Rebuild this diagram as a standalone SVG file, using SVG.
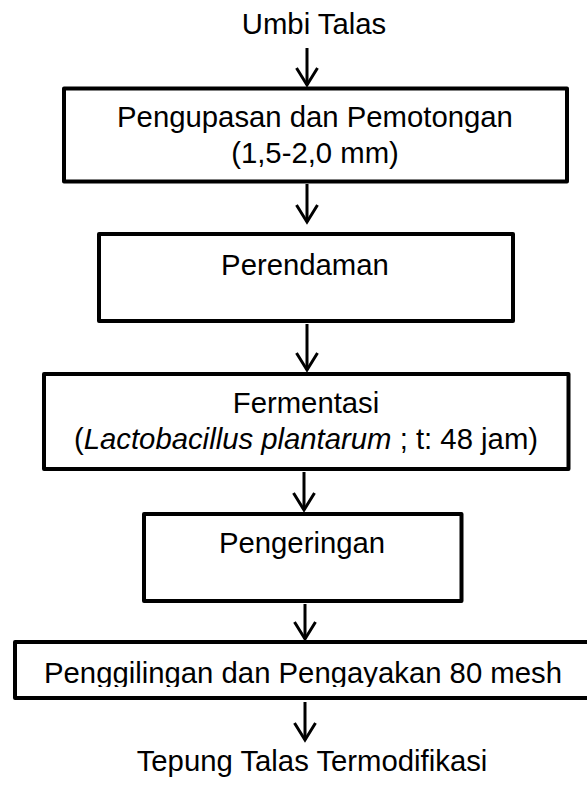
<svg xmlns="http://www.w3.org/2000/svg" width="587" height="785" viewBox="0 0 587 785">
<style>
.box{fill:#fff;stroke:#000;stroke-width:4;stroke-linejoin:round}
.t{font-family:"Liberation Sans",Arial,sans-serif;font-size:29.3px;fill:#000;text-anchor:middle}
.c{stroke:#000;stroke-width:3;fill:none}
</style>
<defs>
<marker id="ah" markerUnits="userSpaceOnUse" orient="auto" refX="0" refY="0" markerWidth="40" markerHeight="40" viewBox="-20 -20 40 40" overflow="visible">
<path d="M-17,-10.5 L0,0 L-17,10.5" fill="none" stroke="#000" stroke-width="3"/>
</marker>
<clipPath id="clip5"><rect x="17" y="644" width="570" height="43"/></clipPath>
</defs>
<rect width="587" height="785" fill="#fff"/>
<g id="connectors">
<line class="c" x1="307" y1="48" x2="307" y2="85" marker-end="url(#ah)"/>
<line class="c" x1="307" y1="184" x2="307" y2="222" marker-end="url(#ah)"/>
<line class="c" x1="307" y1="324" x2="307" y2="370" marker-end="url(#ah)"/>
<line class="c" x1="304" y1="472" x2="304" y2="510" marker-end="url(#ah)"/>
<line class="c" x1="305" y1="604" x2="305" y2="639" marker-end="url(#ah)"/>
<line class="c" x1="305" y1="702" x2="305" y2="740" marker-end="url(#ah)"/>
</g>
<g id="start"><text class="t" x="314" y="34">Umbi Talas</text></g>
<g id="pengupasan">
<rect class="box" x="64" y="88.5" width="503" height="93"/>
<text class="t" x="315" y="127">Pengupasan dan Pemotongan</text>
<text class="t" x="315" y="163">(1,5-2,0 mm)</text>
</g>
<g id="perendaman">
<rect class="box" x="99" y="234" width="414" height="87"/>
<text class="t" x="305" y="275">Perendaman</text>
</g>
<g id="fermentasi">
<rect class="box" x="44" y="374" width="524.5" height="95"/>
<text class="t" x="306" y="413">Fermentasi</text>
<text class="t" x="306" y="449">(<tspan font-style="italic">Lactobacillus plantarum</tspan> ; t: 48 jam)</text>
</g>
<g id="pengeringan">
<rect class="box" x="144" y="514" width="317.5" height="87"/>
<text class="t" x="302" y="553">Pengeringan</text>
</g>
<g id="penggilingan">
<rect class="box" x="15" y="642" width="580" height="56"/>
<text class="t" x="303" y="683" clip-path="url(#clip5)">Penggilingan dan Pengayakan 80 mesh</text>
</g>
<g id="end"><text class="t" x="312" y="771">Tepung Talas Termodifikasi</text></g>
</svg>
